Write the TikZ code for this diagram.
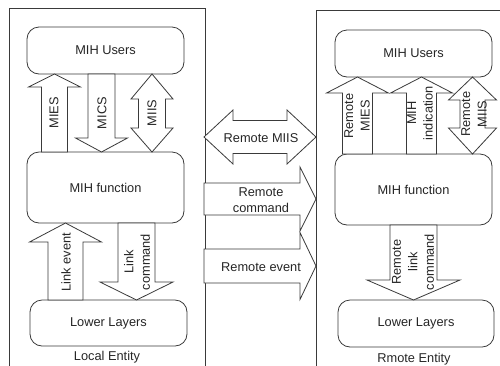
\documentclass[tikz,border=0pt]{standalone}
\usepackage{fontspec}
\setmainfont{Liberation Sans}
\usetikzlibrary{positioning}
\usepackage{xcolor}

\definecolor{linegray}{HTML}{3A3A3A}

% block arrows: centre, tail, tip, shaft half width, head half width, head base
\newcommand{\blkvert}[6]{\draw[blockarrow] (#1-#4,#2) -- (#1-#4,#6) -- (#1-#5,#6) -- (#1,#3) -- (#1+#5,#6) -- (#1+#4,#6) -- (#1+#4,#2) -- cycle;}
\newcommand{\blkhorz}[6]{\draw[blockarrow] (#2,#1-#4) -- (#6,#1-#4) -- (#6,#1-#5) -- (#3,#1) -- (#6,#1+#5) -- (#6,#1+#4) -- (#2,#1+#4) -- cycle;}
% double block arrows: centre, tip 1, tip 2, shaft half width, head half width, head base 1, head base 2
\newcommand{\blkvertboth}[7]{\draw[blockarrow] (#1,#2) -- (#1+#5,#6) -- (#1+#4,#6) -- (#1+#4,#7) -- (#1+#5,#7) -- (#1,#3) -- (#1-#5,#7) -- (#1-#4,#7) -- (#1-#4,#6) -- (#1-#5,#6) -- cycle;}
\newcommand{\blkhorzboth}[7]{\draw[blockarrow] (#2,#1) -- (#6,#1-#5) -- (#6,#1-#4) -- (#7,#1-#4) -- (#7,#1-#5) -- (#3,#1) -- (#7,#1+#5) -- (#7,#1+#4) -- (#6,#1+#4) -- (#6,#1+#5) -- cycle;}

\begin{document}
\begin{tikzpicture}[
        x=1pt, y=-1pt,
        every node/.style={font=\fontsize{12.8}{16.5}\selectfont, text=black!85},
        entity/.style={draw=linegray, line width=0.8pt},
        layerbox/.style={draw=linegray, line width=0.8pt, rounded corners=12pt, fill=white, minimum width=157pt, minimum height=47pt, inner sep=0pt},
        blockarrow/.style={draw=linegray, line width=0.8pt, fill=white, line join=miter},
        arrowlabel/.style={rotate=90, align=center, inner sep=0pt}
    ]
        \useasboundingbox (0,0) rectangle (500,365);
        \clip (0,0) rectangle (500,365);

        % Entity frames
        \draw[entity] (9,8) rectangle (205,380);
        \draw[entity] (316,10) rectangle (530,380);

        % Local entity
        \node[layerbox] (lusers) at (105.5,50.5) {MIH Users};
        \node[layerbox, minimum height=71pt] (lfunc) at (105.5,187.5) {MIH function};
        \node[layerbox, minimum height=46pt] (llower) at (108.5,323) {Lower Layers};
        \node (llabel) at (107,357) {Local Entity};

        % Remote entity
        \node[layerbox] (rusers) at (413.5,53.5) {MIH Users};
        \node[layerbox, minimum height=71pt] (rfunc) at (413.5,189.5) {MIH function};
        \node[layerbox, minimum width=156pt] (rlower) at (416,323.5) {Lower Layers};
        \node (rlabel) at (414,359) {Rmote Entity};

        % Local SAPs
        \blkvert{54.5}{152}{74}{13}{26}{87}
        \blkvert{101.5}{74}{152}{13.5}{26}{138}
        \blkvertboth{152}{74}{152}{13.5}{21}{99}{128}
        \blkvert{65.5}{300}{223}{17.5}{36}{242}
        \blkvert{136.5}{223}{300}{18.5}{36.5}{282}

        % Remote messages
        \blkhorzboth{137}{204}{316}{16.5}{27}{233}{287}
        \blkhorz{199}{204}{316}{16}{32}{300}
        \blkhorz{266}{204}{316}{17}{33.5}{300}

        % Remote SAPs
        \blkvert{357.5}{154}{77}{15}{31}{93}
        \blkvert{421.5}{154}{77}{15}{31}{93}
        \blkvertboth{472.5}{77}{154}{12.5}{24}{100}{128}
        \blkvert{413.5}{225}{300}{23.5}{46.5}{280}

        % Arrow labels
        \node[arrowlabel] (mies) at (54,113) {MIES};
        \node[arrowlabel] (mics) at (102,113) {MICS};
        \node[arrowlabel] (miis) at (152,113) {MIIS};
        \node[arrowlabel] (levent) at (66,262) {Link event};
        \node[arrowlabel] (lcmd) at (137,262) {Link\\ command};
        \node (rmiis) at (261,138) {Remote MIIS};
        \node[align=center, inner sep=0pt] (rcmd) at (261,200) {Remote\\ command};
        \node (revent) at (261,267) {Remote event};
        \node[arrowlabel] (rmies) at (357,116) {Remote\\ MIES};
        \node[arrowlabel] (mihind) at (420,113) {MIH\\ indication};
        \node[arrowlabel] (rmiisb) at (474,114) {Remote\\ MIIS};
        \node[arrowlabel] (rlcmd) at (413,262) {Remote\\ link\\ command};
\end{tikzpicture}
\end{document}
